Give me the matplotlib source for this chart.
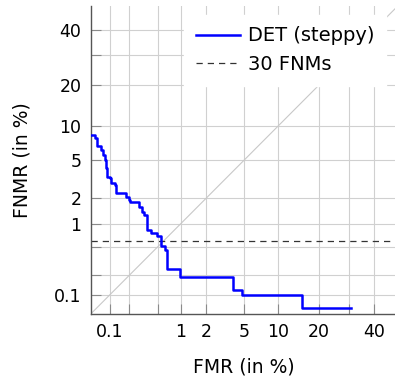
from statistics import NormalDist
import numpy as np
import matplotlib
matplotlib.use('Agg')
from matplotlib import pyplot as plt

# DET curve (percent), steps-post
fmr = [0.05, 0.058, 0.0625, 0.074, 0.078, 0.083, 0.087, 0.091, 0.1, 0.106,
       0.12, 0.124, 0.18, 0.2, 0.207, 0.28, 0.30, 0.33, 0.36, 0.41,
       0.49, 0.55, 0.63, 0.66, 0.67, 0.98, 3.9, 4.8, 15.3, 31]
fnmr = [8.4, 7.9, 6.75, 6.2, 5.58, 5.0, 4.15, 3.42, 3.28, 2.95,
        2.8, 2.3, 2.08, 1.91, 1.83, 1.6, 1.4, 1.28, 0.83, 0.76,
        0.7, 0.51, 0.46, 0.39, 0.245, 0.185, 0.12, 0.1, 0.061, 0.061]
fnm_rule = 0.6  # 30 FNMs

ticks = [0.1, 0.2, 0.5, 1, 2, 5, 10, 20, 30, 40]
tick_labels = ['0.1', '', '', '1', '2', '5', '10', '20', '', '40']
lims = [0.05, 50]

_nd = NormalDist()
_ppf = np.vectorize(lambda p: _nd.inv_cdf(min(max(p / 100.0, 1e-9), 1 - 1e-9)),
                    otypes=[float])
_cdf = np.vectorize(lambda z: _nd.cdf(z) * 100.0, otypes=[float])


def fwd(p):
    return _ppf(np.asarray(p, dtype=float))


def inv(z):
    return _cdf(np.asarray(z, dtype=float))


plt.rcParams['font.family'] = ['DejaVu Sans']

fig = plt.figure(figsize=(3.95, 3.77), dpi=100)
ax = fig.add_axes([91 / 395, 1 - 313.7 / 377, 306.4 / 395, 307.3 / 377])
ax.set_xscale('function', functions=(fwd, inv))
ax.set_yscale('function', functions=(fwd, inv))
ax.set_xlim(lims)
ax.set_ylim(lims)

ax.plot(lims, lims, color='#c8c8c8', lw=0.8, zorder=1)
ax.plot(fmr, fnmr, drawstyle='steps-post', color='#0000ff', lw=1.8,
        label='DET (steppy)', zorder=3)
ax.axhline(fnm_rule, color='#333333', lw=0.9, ls=(0, (5, 4)),
           label='30 FNMs', zorder=2)

ax.set_xticks(ticks)
ax.set_xticklabels(tick_labels)
ax.set_yticks(ticks)
ax.set_yticklabels(tick_labels)
ax.minorticks_off()
ax.grid(True, color='#d0d0d0', lw=0.8, zorder=0)
ax.set_axisbelow(True)
ax.tick_params(direction='in', length=7.5, width=0.8, color='#8a8a8a',
               labelsize=12.5, pad=7)
for s in ['top', 'right']:
    ax.spines[s].set_visible(False)
for s in ['left', 'bottom']:
    ax.spines[s].set_color('#555555')
    ax.spines[s].set_linewidth(1.0)

ax.set_xlabel('FMR (in %)', fontsize=13.5, labelpad=11.5)
ax.set_ylabel('FNMR (in %)', fontsize=13.5, labelpad=16)

leg = ax.legend(loc='upper right', bbox_to_anchor=(0.964, 0.973),
                borderaxespad=0, fontsize=14, frameon=True, framealpha=1,
                facecolor='white', edgecolor='white', fancybox=False,
                handlelength=2.3, handletextpad=0.4, labelspacing=0.5,
                borderpad=0.6)
leg.set_zorder(5)

fig.savefig('out.png', dpi=100)
